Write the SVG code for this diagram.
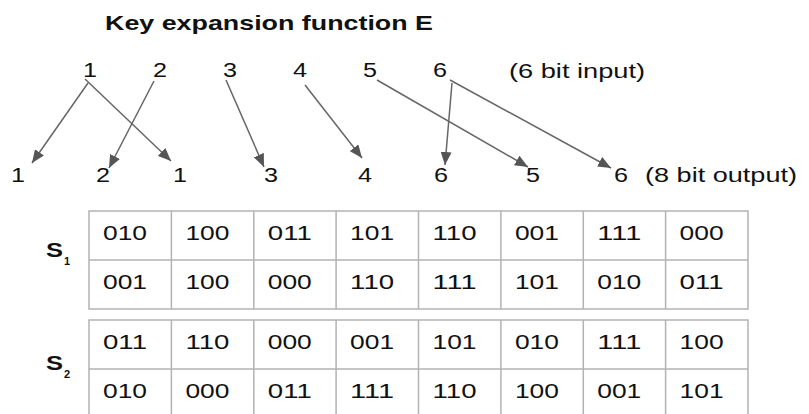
<svg xmlns="http://www.w3.org/2000/svg" width="809" height="414" viewBox="0 0 809 414">
<style>
text{font-family:"Liberation Sans",Arial,sans-serif;fill:#111}
.t{font-size:21px;font-weight:bold}
.n{font-size:20px}
.c{font-size:20px}
.s{font-size:20px;font-weight:bold}
.sub{font-size:11px;font-weight:bold}
.grid{fill:none;stroke:#b3b3b3;stroke-width:1.5}
.arr{stroke:#666;stroke-width:1.5;fill:none;marker-end:url(#ah)}
</style>
<defs>
<marker id="ah" viewBox="0 0 13 11" refX="13" refY="5.5" markerWidth="13" markerHeight="11" markerUnits="userSpaceOnUse" orient="auto">
<path d="M0,0 L13,5.5 L0,11 z" fill="#555"/>
</marker>
</defs>
<rect width="809" height="414" fill="#fff"/>
<g id="title"><text class="t" x="105" y="30" textLength="328" lengthAdjust="spacingAndGlyphs">Key expansion function E</text></g>
<g id="inputs">
<g id="in1"><text class="n" x="83" y="77" textLength="14" lengthAdjust="spacingAndGlyphs">1</text></g>
<g id="in2"><text class="n" x="153" y="77" textLength="14" lengthAdjust="spacingAndGlyphs">2</text></g>
<g id="in3"><text class="n" x="223" y="77" textLength="14" lengthAdjust="spacingAndGlyphs">3</text></g>
<g id="in4"><text class="n" x="293" y="77" textLength="14" lengthAdjust="spacingAndGlyphs">4</text></g>
<g id="in5"><text class="n" x="363" y="77" textLength="14" lengthAdjust="spacingAndGlyphs">5</text></g>
<g id="in6"><text class="n" x="433" y="77" textLength="14" lengthAdjust="spacingAndGlyphs">6</text></g>
<g id="inlabel"><text class="n" x="509" y="78" textLength="136" lengthAdjust="spacingAndGlyphs">(6 bit input)</text></g>
</g>
<g id="outputs">
<g id="out1"><text class="n" x="11" y="182" textLength="14" lengthAdjust="spacingAndGlyphs">1</text></g>
<g id="out2"><text class="n" x="96" y="182" textLength="14" lengthAdjust="spacingAndGlyphs">2</text></g>
<g id="out3"><text class="n" x="173" y="182" textLength="14" lengthAdjust="spacingAndGlyphs">1</text></g>
<g id="out4"><text class="n" x="264" y="182" textLength="14" lengthAdjust="spacingAndGlyphs">3</text></g>
<g id="out5"><text class="n" x="358" y="182" textLength="14" lengthAdjust="spacingAndGlyphs">4</text></g>
<g id="out6"><text class="n" x="434" y="182" textLength="14" lengthAdjust="spacingAndGlyphs">6</text></g>
<g id="out7"><text class="n" x="526" y="182" textLength="14" lengthAdjust="spacingAndGlyphs">5</text></g>
<g id="out8"><text class="n" x="614" y="182" textLength="14" lengthAdjust="spacingAndGlyphs">6</text></g>
<g id="outlabel"><text class="n" x="645" y="182" textLength="152" lengthAdjust="spacingAndGlyphs">(8 bit output)</text></g>
</g>
<g id="connectors">
<line class="arr" x1="88" y1="83" x2="32" y2="163"/>
<line class="arr" x1="85" y1="79" x2="171" y2="161"/>
<line class="arr" x1="154" y1="81" x2="109" y2="168"/>
<line class="arr" x1="226" y1="80" x2="264" y2="167"/>
<line class="arr" x1="305" y1="85" x2="362" y2="158"/>
<line class="arr" x1="377" y1="80" x2="528" y2="167"/>
<line class="arr" x1="452" y1="83" x2="445" y2="165"/>
<line class="arr" x1="450" y1="80" x2="611" y2="168"/>
</g>
<g id="S1">
<text class="s" x="46" y="257" textLength="17" lengthAdjust="spacingAndGlyphs">S</text><text class="sub" x="64" y="265">1</text>
<rect class="grid" x="89" y="211" width="659" height="98"/>
<path class="grid" d="M89,260H748M171.4,211V309M253.8,211V309M336.1,211V309M418.5,211V309M500.9,211V309M583.3,211V309M665.6,211V309"/>
<g>
<text class="c" x="103" y="240" textLength="44" lengthAdjust="spacingAndGlyphs">010</text>
<text class="c" x="185.4" y="240" textLength="44" lengthAdjust="spacingAndGlyphs">100</text>
<text class="c" x="267.8" y="240" textLength="44" lengthAdjust="spacingAndGlyphs">011</text>
<text class="c" x="350.1" y="240" textLength="44" lengthAdjust="spacingAndGlyphs">101</text>
<text class="c" x="432.5" y="240" textLength="44" lengthAdjust="spacingAndGlyphs">110</text>
<text class="c" x="514.9" y="240" textLength="44" lengthAdjust="spacingAndGlyphs">001</text>
<text class="c" x="597.3" y="240" textLength="44" lengthAdjust="spacingAndGlyphs">111</text>
<text class="c" x="679.6" y="240" textLength="44" lengthAdjust="spacingAndGlyphs">000</text>
<text class="c" x="103" y="289" textLength="44" lengthAdjust="spacingAndGlyphs">001</text>
<text class="c" x="185.4" y="289" textLength="44" lengthAdjust="spacingAndGlyphs">100</text>
<text class="c" x="267.8" y="289" textLength="44" lengthAdjust="spacingAndGlyphs">000</text>
<text class="c" x="350.1" y="289" textLength="44" lengthAdjust="spacingAndGlyphs">110</text>
<text class="c" x="432.5" y="289" textLength="44" lengthAdjust="spacingAndGlyphs">111</text>
<text class="c" x="514.9" y="289" textLength="44" lengthAdjust="spacingAndGlyphs">101</text>
<text class="c" x="597.3" y="289" textLength="44" lengthAdjust="spacingAndGlyphs">010</text>
<text class="c" x="679.6" y="289" textLength="44" lengthAdjust="spacingAndGlyphs">011</text>
</g>
</g>
<g id="S2">
<text class="s" x="46" y="370" textLength="17" lengthAdjust="spacingAndGlyphs">S</text><text class="sub" x="64" y="378">2</text>
<rect class="grid" x="89" y="320" width="659" height="98"/>
<path class="grid" d="M89,369H748M171.4,320V418M253.8,320V418M336.1,320V418M418.5,320V418M500.9,320V418M583.3,320V418M665.6,320V418"/>
<g>
<text class="c" x="103" y="349" textLength="44" lengthAdjust="spacingAndGlyphs">011</text>
<text class="c" x="185.4" y="349" textLength="44" lengthAdjust="spacingAndGlyphs">110</text>
<text class="c" x="267.8" y="349" textLength="44" lengthAdjust="spacingAndGlyphs">000</text>
<text class="c" x="350.1" y="349" textLength="44" lengthAdjust="spacingAndGlyphs">001</text>
<text class="c" x="432.5" y="349" textLength="44" lengthAdjust="spacingAndGlyphs">101</text>
<text class="c" x="514.9" y="349" textLength="44" lengthAdjust="spacingAndGlyphs">010</text>
<text class="c" x="597.3" y="349" textLength="44" lengthAdjust="spacingAndGlyphs">111</text>
<text class="c" x="679.6" y="349" textLength="44" lengthAdjust="spacingAndGlyphs">100</text>
<text class="c" x="103" y="398" textLength="44" lengthAdjust="spacingAndGlyphs">010</text>
<text class="c" x="185.4" y="398" textLength="44" lengthAdjust="spacingAndGlyphs">000</text>
<text class="c" x="267.8" y="398" textLength="44" lengthAdjust="spacingAndGlyphs">011</text>
<text class="c" x="350.1" y="398" textLength="44" lengthAdjust="spacingAndGlyphs">111</text>
<text class="c" x="432.5" y="398" textLength="44" lengthAdjust="spacingAndGlyphs">110</text>
<text class="c" x="514.9" y="398" textLength="44" lengthAdjust="spacingAndGlyphs">100</text>
<text class="c" x="597.3" y="398" textLength="44" lengthAdjust="spacingAndGlyphs">001</text>
<text class="c" x="679.6" y="398" textLength="44" lengthAdjust="spacingAndGlyphs">101</text>
</g>
</g>
</svg>
